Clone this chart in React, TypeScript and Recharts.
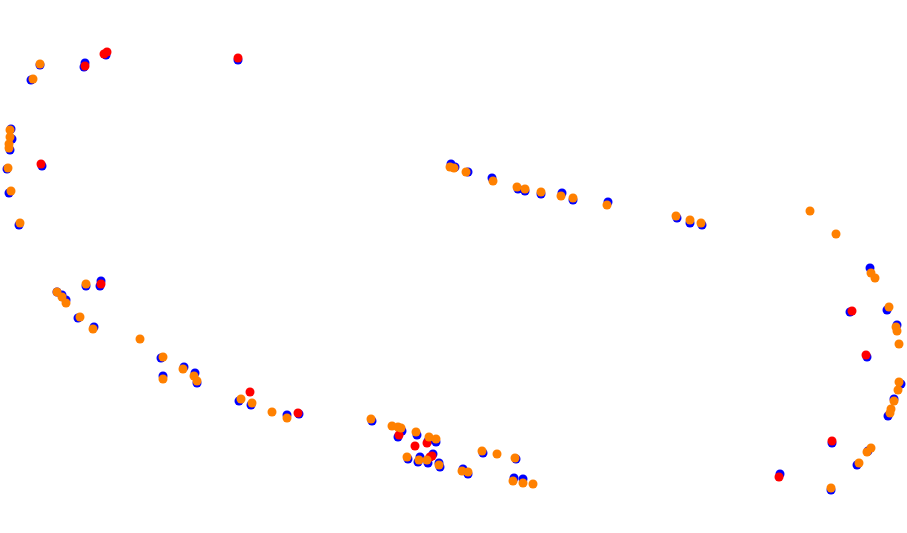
import { ScatterChart, Scatter, XAxis, YAxis } from "recharts";

// positions (x to the right, y downward)
const blueX = [40, 31, 85, 84, 106, 238, 11, 12, 10, 7, 42, 9, 19, 57, 62, 66, 86, 101, 100, 78, 94, 161, 163, 184, 195, 197, 239, 251, 287, 299, 372, 402, 398, 417, 428, 436, 408, 418, 420, 433, 428, 440, 439, 463, 468, 483, 516, 514, 523, 451, 455, 468, 492, 518, 525, 541, 562, 573, 608, 677, 690, 702, 870, 850, 887, 897, 867, 901, 894, 888, 832, 868, 857, 780, 831];
const blueY = [65, 80, 63, 67, 55, 60, 129, 139, 150, 169, 166, 193, 225, 292, 295, 300, 286, 281, 286, 318, 327, 358, 376, 367, 373, 383, 401, 405, 415, 414, 421, 431, 437, 435, 441, 442, 459, 462, 457, 454, 463, 467, 463, 469, 474, 453, 459, 478, 479, 164, 167, 172, 178, 189, 191, 194, 193, 200, 202, 218, 223, 225, 268, 312, 310, 325, 357, 384, 399, 416, 443, 451, 465, 474, 490];

const redX = [85, 107, 104, 238, 41, 101, 250, 298, 399, 415, 427, 430, 432, 852, 866, 832, 779];
const redY = [66, 52, 54, 58, 164, 284, 392, 413, 435, 446, 443, 457, 456, 311, 355, 441, 477];

const orangeX = [40, 33, 10, 10, 9, 9, 8, 11, 20, 57, 62, 66, 86, 80, 93, 140, 163, 163, 183, 194, 197, 241, 252, 272, 287, 371, 392, 398, 401, 416, 429, 436, 407, 419, 427, 439, 462, 468, 482, 497, 515, 513, 523, 533, 450, 454, 466, 493, 517, 525, 541, 561, 573, 607, 676, 690, 701, 810, 836, 871, 875, 889, 896, 897, 899, 899, 898, 894, 891, 890, 871, 867, 859, 831];
const orangeY = [64, 79, 130, 137, 144, 148, 168, 191, 223, 292, 297, 303, 284, 317, 329, 339, 357, 379, 369, 376, 381, 399, 403, 412, 418, 419, 426, 427, 428, 432, 437, 439, 457, 460, 460, 465, 471, 472, 451, 454, 458, 481, 483, 484, 167, 168, 172, 181, 187, 189, 192, 196, 198, 205, 216, 220, 223, 211, 234, 273, 278, 307, 327, 331, 344, 382, 390, 401, 409, 413, 448, 452, 463, 488];

const toPoints = (xs: number[], ys: number[]) => xs.map((x, i) => ({ x, y: ys[i] }));

export default function App() {
  return (
    <div style={{ position: "absolute", left: 0, top: 0 }}>
      <ScatterChart width={907} height={533} margin={{ top: 0, right: 0, bottom: 0, left: 0 }}>
        <XAxis type="number" dataKey="x" domain={[0, 907]} hide />
        <YAxis type="number" dataKey="y" domain={[0, 533]} reversed hide />
        <Scatter data={toPoints(blueX, blueY)} fill="#0000ff" isAnimationActive={false} />
        <Scatter data={toPoints(redX, redY)} fill="#ff0000" isAnimationActive={false} />
        <Scatter data={toPoints(orangeX, orangeY)} fill="#ff8000" isAnimationActive={false} />
      </ScatterChart>
    </div>
  );
}
